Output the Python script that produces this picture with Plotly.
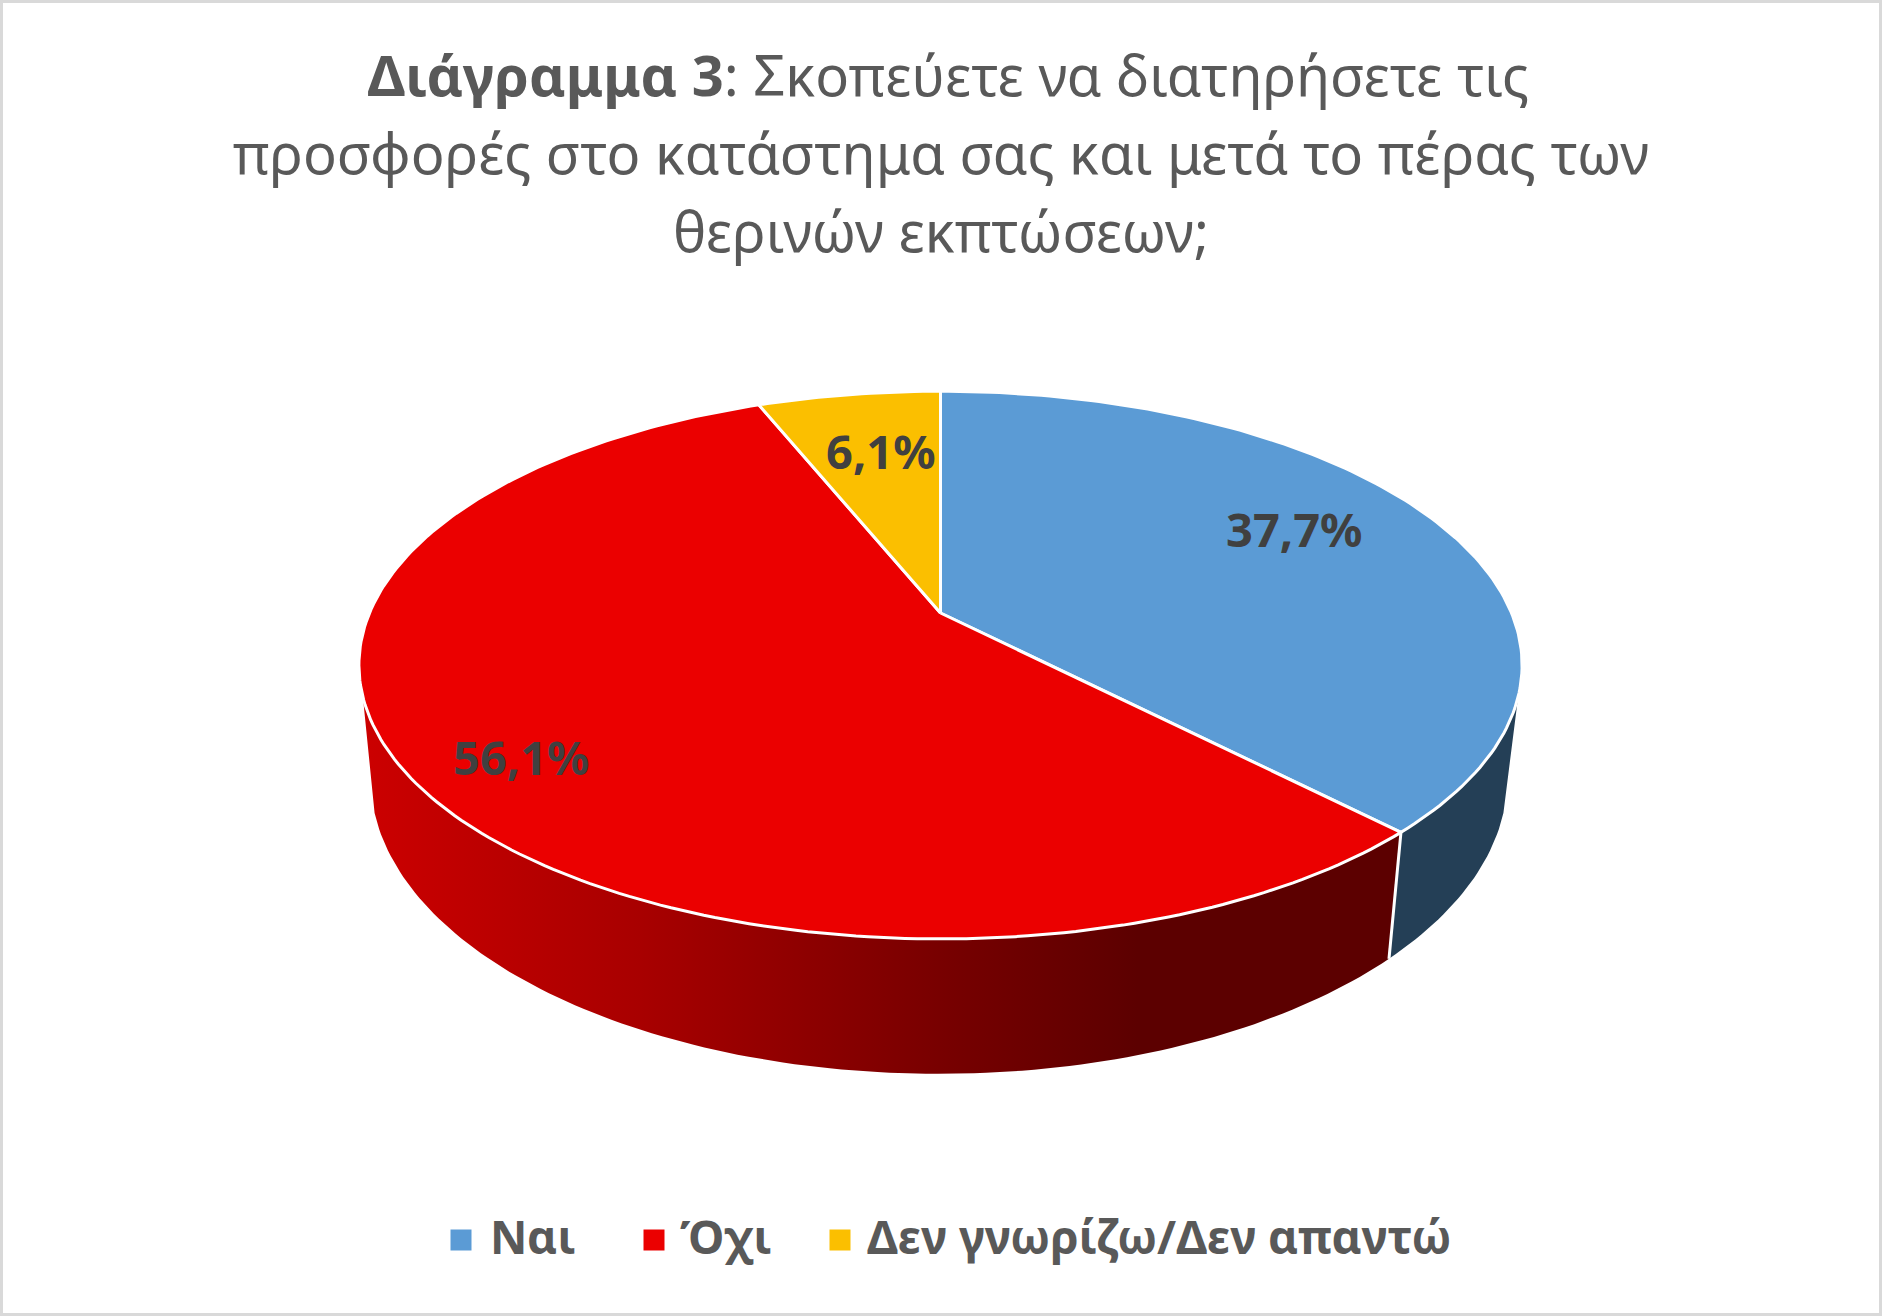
import math
import plotly.graph_objects as go

categories = ["Ναι", "Όχι", "Δεν γνωρίζω/Δεν απαντώ"]
values = [37.7, 56.1, 6.1]
value_labels = ["37,7%", "56,1%", "6,1%"]
top_colors = ["#5B9BD5", "#EB0000", "#FBBF00"]

title_lines = [
    "\u00a0<b>Διάγραμμα 3</b>: Σκοπεύετε να διατηρήσετε τις",
    "προσφορές στο κατάστημα σας και μετά το πέρας των",
    "θερινών εκπτώσεων;",
]

W, H = 1882, 1316
FONT = "Noto Sans"
TITLE_PX, LINE_PX = 56, 60
K = 0.19
TOP = dict(cx=940.5, cy=613, a=264, b=571)
LOW = dict(cx=939, cy=722, a=285, b=558)
LABEL_POS = [(1294, 529), (521, 757), (881, 451)]
LEGEND_KEYS = [(461, 1240), (654, 1240), (840, 1240)]
LEGEND_TEXT = [488, 678, 865]


def project(theta_deg, g):
    t = math.radians(theta_deg)
    u, v = math.sin(t), math.cos(t)
    w = 1 + K * v
    return g["cx"] + g["b"] * u / w, g["cy"] - g["a"] * v / w


def arc(start, end, g):
    n = max(2, int(abs(end - start)) + 1)
    pts = [project(start + (end - start) * i / (n - 1), g) for i in range(n)]
    return [p[0] for p in pts], [p[1] for p in pts]


total = sum(values)
edges = [0.0]
for val in values:
    edges.append(edges[-1] + val / total * 360)

fig = go.Figure()

# Visible side walls (front half of the disc only)
SIDE_LEFT_LIMIT = 252.5
SIDE_RIGHT_LIMIT = 107.5
bx0, by0 = arc(SIDE_RIGHT_LIMIT, edges[1], TOP)
bx1, by1 = arc(edges[1], SIDE_RIGHT_LIMIT, LOW)
fig.add_trace(go.Scatter(x=bx0 + bx1, y=by0 + by1, fill="toself", mode="lines",
                         fillcolor="#243F56", line=dict(color="#243F56", width=0),
                         hoverinfo="skip", showlegend=False))
rx0, ry0 = arc(edges[1], SIDE_LEFT_LIMIT, TOP)
rx1, ry1 = arc(SIDE_LEFT_LIMIT, edges[1], LOW)
fig.add_trace(go.Scatter(x=rx0 + rx1, y=ry0 + ry1, fill="toself", mode="lines",
                         fillgradient=dict(type="horizontal", start=362, stop=1150,
                                           colorscale=[[0, "#CC0000"], [0.353, "#A80000"],
                                                       [0.733, "#780000"], [0.985, "#5C0000"],
                                                       [1, "#5C0000"]]),
                         line=dict(color="rgba(0,0,0,0)", width=0),
                         hoverinfo="skip", showlegend=False))
# White seam between the two walls
sx0, sy0 = project(edges[1], TOP)
sx1, sy1 = project(edges[1], LOW)
fig.add_trace(go.Scatter(x=[sx0, sx1], y=[sy0, sy1], mode="lines",
                         line=dict(color="white", width=3),
                         hoverinfo="skip", showlegend=False))

# Top face slices
for i, cat in enumerate(categories):
    ax, ay = arc(edges[i], edges[i + 1], TOP)
    fig.add_trace(go.Scatter(x=[TOP["cx"]] + ax + [TOP["cx"]],
                             y=[TOP["cy"]] + ay + [TOP["cy"]],
                             fill="toself", mode="lines", fillcolor=top_colors[i],
                             line=dict(color="white", width=3),
                             name=cat, showlegend=False,
                             hovertemplate=f"{cat}: {value_labels[i]}<extra></extra>"))

# Legend keys
for i, cat in enumerate(categories):
    fig.add_trace(go.Scatter(x=[LEGEND_KEYS[i][0]], y=[LEGEND_KEYS[i][1]], mode="markers",
                             marker=dict(symbol="square", size=21, color=top_colors[i]),
                             hoverinfo="skip", showlegend=False))

annotations = []
for i, lab in enumerate(value_labels):
    annotations.append(dict(x=LABEL_POS[i][0], y=LABEL_POS[i][1], text=f"<b>{lab}</b>",
                            showarrow=False, font=dict(family=FONT, size=47, color="#404040")))
for i, cat in enumerate(categories):
    annotations.append(dict(x=LEGEND_TEXT[i], y=1236, text=f"<b>{cat}</b>", xanchor="left",
                            showarrow=False, font=dict(family=FONT, size=46, color="#595959")))

title_text = "<br>".join(f'<span style="font-size:{TITLE_PX}px">{s}</span>' for s in title_lines)

fig.update_layout(
    width=W, height=H, margin=dict(l=0, r=0, t=0, b=0),
    paper_bgcolor="white", plot_bgcolor="white", showlegend=False,
    title=dict(text=title_text, x=0.5, xanchor="center", xref="paper",
               y=1 - 96 / H, yanchor="bottom", yref="container",
               font=dict(family=FONT, size=LINE_PX, color="#595959")),
    xaxis=dict(range=[0, W], visible=False, fixedrange=True),
    yaxis=dict(range=[H, 0], visible=False, fixedrange=True),
    annotations=annotations,
    shapes=[dict(type="rect", xref="paper", yref="paper", x0=0, x1=1, y0=0, y1=1,
                 line=dict(color="#D9D9D9", width=6), layer="above")],
)

fig.write_html("out.html", config=dict(displayModeBar=False),
               post_script="document.body.style.margin='0';document.body.style.overflow='hidden';")
